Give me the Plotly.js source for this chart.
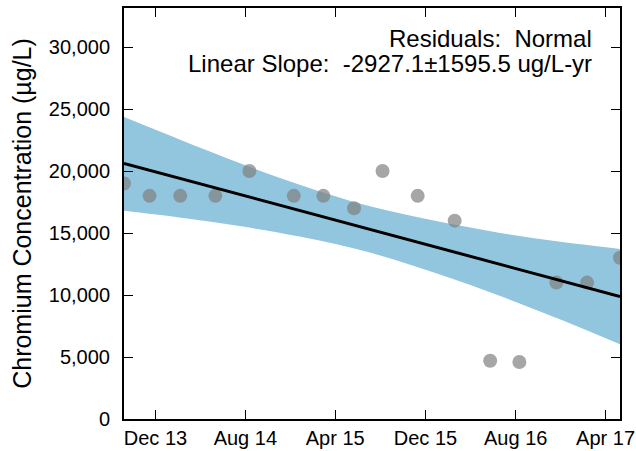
<!DOCTYPE html>
<html>
<head>
<meta charset="utf-8">
<script src="https://cdn.plot.ly/plotly-3.0.1.min.js"></script>
<style>html,body{margin:0;padding:0;background:#fff;}#chart{width:636px;height:451px;}</style>
</head>
<body>
<div id="chart"></div>
<script>
// Sample dates and chromium concentrations (µg/L)
const sampleDates = ["2013-09-07","2013-11-15","2014-02-06","2014-05-12","2014-08-12","2014-12-10","2015-02-28","2015-05-22","2015-08-07","2015-11-10","2016-02-18","2016-05-24","2016-08-11","2016-11-19","2017-02-10","2017-05-10"];
const chromium = [19000,18000,18000,18000,20000,18000,18000,17000,20000,18000,16000,4700,4600,11000,11000,13000];

// Linear trend line (read at the ends)
const trendDates = ["2013-09-07","2017-05-10"];
const trendValues = [20620, 9880];

// Confidence band edges
const bandDates = ["2013-09-07","2014-02-04","2014-07-16","2014-12-26","2015-07-04","2016-01-09","2016-06-20","2016-11-30","2017-05-10"];
const bandUpper = [24350,22550,20650,18890,17150,15900,15010,14300,13720];
const bandLower = [16800,16260,15560,14710,13420,11650,9920,8020,6020];

// Axis ticks
const xTickVals = ["2013-12-01","2014-08-01","2015-04-01","2015-12-01","2016-08-01","2017-04-01"];
const xTickText = ["Dec 13","Aug 14","Apr 15","Dec 15","Aug 16","Apr 17"];
const yTickVals = [0,5000,10000,15000,20000,25000,30000];

const annotationLines = ["Residuals:  Normal","Linear Slope:  -2927.1±1595.5 ug/L-yr"];

const FONT = "'Liberation Sans', Arial, Helvetica, sans-serif";

const traces = [
  {x: bandDates, y: bandLower, mode: "lines", line: {width: 0, shape: "spline"}, hoverinfo: "skip", showlegend: false},
  {x: bandDates, y: bandUpper, mode: "lines", line: {width: 0, shape: "spline"}, fill: "tonexty", fillcolor: "#92c5de", hoverinfo: "skip", showlegend: false},
  {x: sampleDates, y: chromium, mode: "markers", marker: {size: 14, color: "rgba(128,128,128,0.7)"}, cliponaxis: true, showlegend: false},
  {x: trendDates, y: trendValues, mode: "lines", line: {color: "#000", width: 3}, showlegend: false}
];

const layout = {
  width: 636, height: 451,
  margin: {l: 124, r: 16, t: 8, b: 32},
  paper_bgcolor: "#fff", plot_bgcolor: "#fff",
  font: {family: FONT, color: "#000", size: 20},
  showlegend: false,
  xaxis: {
    type: "date",
    range: [sampleDates[0], sampleDates[sampleDates.length-1]],
    tickvals: xTickVals, ticktext: xTickText,
    ticks: "inside", ticklen: 9, tickwidth: 1, tickcolor: "#000",
    showline: true, linewidth: 2, linecolor: "#000", mirror: "ticks",
    showgrid: false, zeroline: false,
    tickfont: {size: 20, family: FONT}
  },
  yaxis: {
    range: [0, 33150],
    tickvals: yTickVals, tickformat: ",d",
    ticks: "inside", ticklen: 9, tickwidth: 1, tickcolor: "#000",
    showline: true, linewidth: 2, linecolor: "#000", mirror: "ticks",
    showgrid: false, zeroline: false,
    tickfont: {size: 20, family: FONT},
    ticklabelstandoff: 8,
    title: {text: "Chromium Concentration (µg/L)", font: {size: 25, family: FONT}, standoff: 10}
  },
  annotations: [
    {xref: "paper", yref: "paper", x: 0.948, y: 0.927, xanchor: "right", yanchor: "middle", text: annotationLines[0], showarrow: false, font: {size: 24, family: FONT}},
    {xref: "paper", yref: "paper", x: 0.948, y: 0.866, xanchor: "right", yanchor: "middle", text: annotationLines[1], showarrow: false, font: {size: 24, family: FONT}}
  ]
};

Plotly.newPlot("chart", traces, layout, {staticPlot: true, displayModeBar: false});
</script>
</body>
</html>
